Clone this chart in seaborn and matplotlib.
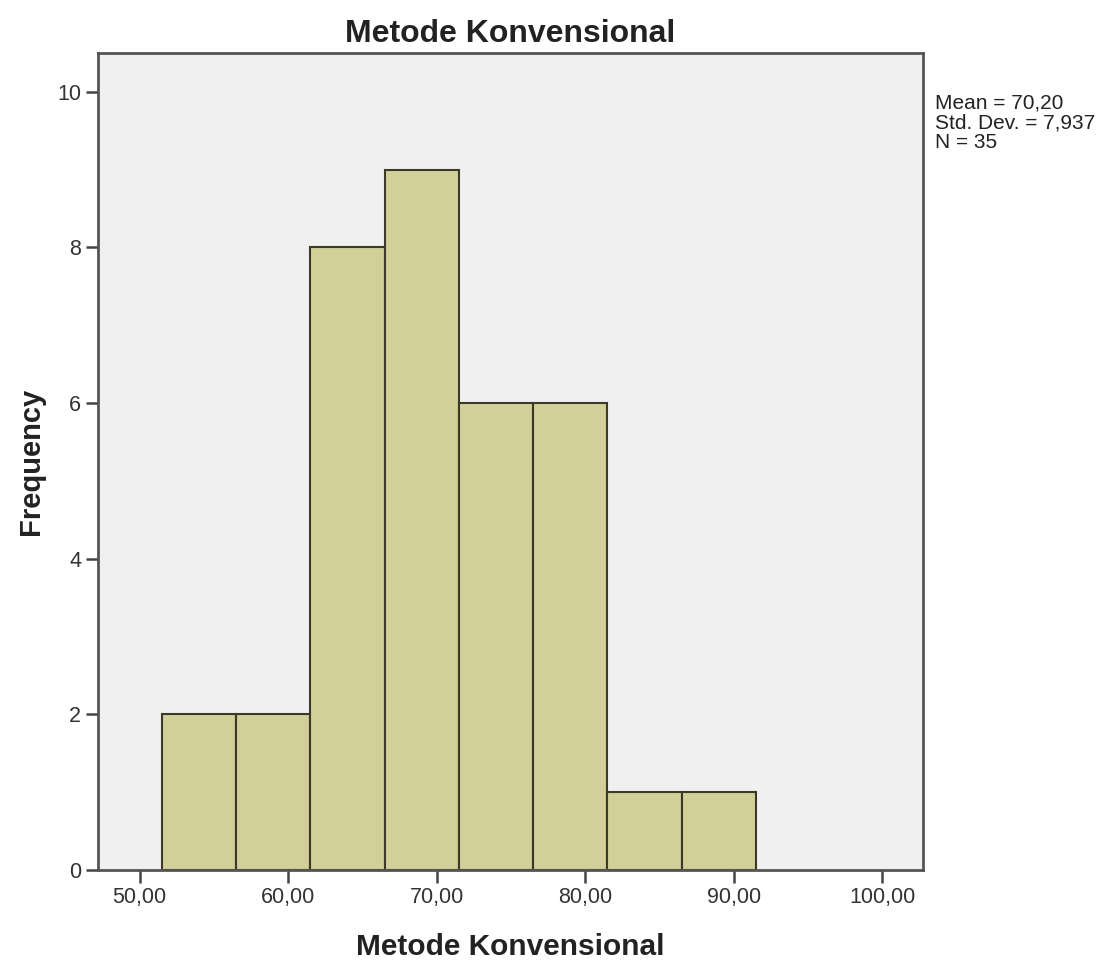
import numpy as np
import pandas as pd
import matplotlib
matplotlib.use('Agg')
import matplotlib.pyplot as plt
import seaborn as sns

# frequencies per bin (SPSS histogram, bin width 5)
bin_centers = [54, 59, 64, 69, 74, 79, 84, 89]
counts = [2, 2, 8, 9, 6, 6, 1, 1]
bin_edges = [51.5, 56.5, 61.5, 66.5, 71.5, 76.5, 81.5, 86.5, 91.5]
x_ticks = [50, 60, 70, 80, 90, 100]
y_ticks = [0, 2, 4, 6, 8, 10]
stats_text = "Mean = 70,20\nStd. Dev. = 7,937\nN = 35"

df = pd.DataFrame({'score': bin_centers, 'freq': counts})

sns.set_style('white')
plt.rcParams['font.family'] = ['Liberation Sans', 'DejaVu Sans']

fig = plt.figure(figsize=(11.15, 9.63), dpi=100)
ax = fig.add_axes([0.0879, 0.0966, 0.740, 0.8484])
ax.set_facecolor('#f0f0f0')

sns.histplot(data=df, x='score', weights='freq', bins=bin_edges,
             color='#d3cf98', edgecolor='#3a3a26', linewidth=1.5,
             alpha=1, ax=ax)

ax.set_xlim(47.2, 102.75)
ax.set_ylim(0, 10.5)
ax.set_xticks(x_ticks)
ax.set_xticklabels([f"{v:.2f}".replace('.', ',') for v in x_ticks])
ax.set_yticks(y_ticks)

for s in ax.spines.values():
    s.set_color('#555555')
    s.set_linewidth(2)

ax.tick_params(axis='both', direction='out', length=9, width=1.8,
               color='#444444', labelsize=15.5, labelcolor='#333333',
               bottom=True, left=True, pad=3)

ax.set_title('Metode Konvensional', fontsize=23, fontweight='bold',
             color='#222222', pad=8)
ax.set_xlabel('Metode Konvensional', fontsize=21.5, fontweight='bold',
              color='#222222', labelpad=18)
ax.set_ylabel('Frequency', fontsize=21, fontweight='bold',
              color='#222222', labelpad=9)

fig.text(0.839, 0.903, stats_text, fontsize=15, color='#222222',
         va='top', ha='left', linespacing=1.05)

fig.savefig('out.png', dpi=100)
